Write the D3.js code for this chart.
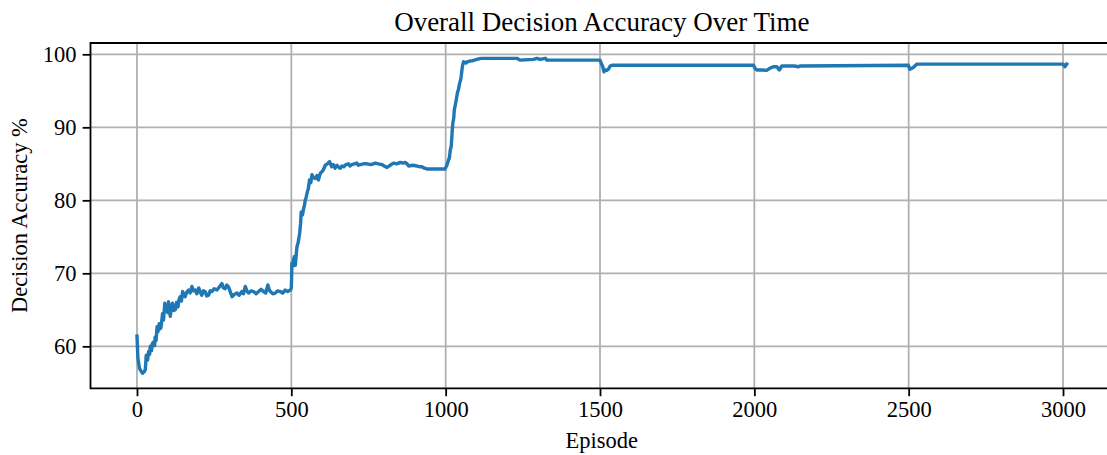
<!DOCTYPE html>
<html>
<head>
<meta charset="utf-8">
<script src="https://cdn.jsdelivr.net/npm/d3@7"></script>
<style>
  html, body { margin: 0; padding: 0; background: #fff; }
  svg { display: block; font-family: "Liberation Serif", "DejaVu Serif", serif; }
</style>
</head>
<body>
<svg id="chart" width="1107" height="455"></svg>
<script>
// Episode numbers and the accuracy (%) recorded at each of them
const episodes = [
  0,3,8,13,18,23,27,30,34,38,41,43,47,50,54,57,59,62,65,68,72,75,78,81,83,86,90,93,97,100,102,105,108,111,115,119,124,128,133,136,140,144,148,152,156,161,167,172,178,183,189,194,200,205,210,215,221,226,232,237,243,250,259,266,275,280,286,291,297,302,308,315,324,331,340,345,351,356,362,370,378,386,394,402,410,417,424,428,432,440,448,456,464,472,480,488,497,
  500,502,505,507,510,513,516,518,522,527,530,532,536,540,543,545,548,551,555,559,563,567,572,578,583,588,591,594,599,604,607,610,617,624,628,631,636,642,645,648,654,659,664,670,677,685,690,696,704,712,717,723,734,745,758,772,782,793,801,810,820,831,842,853,861,869,875,880,893,907,915,923,931,939,955,971,985,998,
  1004,1009,1012,1015,1018,1020,1023,1026,1028,1031,1034,1038,1042,1045,1048,1050,1054,1058,1062,1066,1070,1074,1080,1085,1093,1101,1110,1117,1231,1241,1285,1296,1306,1323,1328,
  1500,1504,1509,1513,1517,1522,1528,1533,1539,1554,1997,2002,2008,2025,2040,2051,2062,2073,2081,2089,2102,2116,2130,2143,2148,2499,2504,2510,2515,2526,3001,3006,3012
];
const accuracy = [
  61.4,58.4,57.0,56.6,56.3,56.5,56.8,58.8,58.1,59.3,58.9,60.0,59.4,60.4,60.6,60.1,61.3,60.8,62.7,62.0,63.1,62.4,62.6,63.8,64.5,63.6,65.9,64.8,65.4,64.6,66.1,65.0,64.1,65.3,65.9,64.9,65.0,66.0,65.4,66.4,66.8,66.2,67.5,67.1,66.8,67.4,67.7,67.3,68.2,67.6,67.7,67.2,68.0,67.4,67.0,67.6,67.5,66.9,67.0,67.6,67.5,67.9,67.7,68.1,68.6,68.0,67.9,68.4,68.1,67.5,66.8,67.1,67.3,67.0,67.5,67.2,68.2,67.6,67.3,67.6,67.5,67.2,67.5,67.8,67.5,67.3,68.4,67.8,67.5,67.2,67.3,67.6,67.5,67.3,67.7,67.5,67.7,
  68.0,71.4,71.0,71.8,72.3,71.1,72.6,73.6,74.2,75.5,76.8,78.4,78.0,78.9,79.4,80.0,80.4,81.0,81.6,82.8,82.4,83.5,83.1,83.0,83.4,82.8,83.3,83.7,83.9,84.2,84.5,84.8,85.0,85.3,84.9,84.6,84.9,84.4,84.7,84.8,84.5,84.4,84.7,84.6,84.9,85.0,84.7,84.9,85.0,85.1,84.8,84.9,85.0,85.0,84.9,85.1,85.0,84.9,84.7,84.5,84.8,85.1,85.0,85.2,85.1,85.2,85.0,84.7,84.8,84.7,84.6,84.6,84.4,84.3,84.3,84.3,84.3,84.3,
  84.8,85.5,85.8,86.9,87.4,88.7,90.5,91.2,92.4,93.0,93.7,94.7,95.3,96.0,96.4,96.9,98.3,99.0,98.9,98.8,99.0,99.0,99.1,99.1,99.2,99.3,99.4,99.45,99.45,99.2,99.3,99.45,99.3,99.45,99.2,
  99.2,98.8,98.3,97.6,97.85,97.8,98.0,98.4,98.5,98.5,98.5,98.1,97.85,97.85,97.8,98.1,98.3,98.3,97.85,98.4,98.4,98.4,98.4,98.3,98.4,98.5,97.95,98.1,98.2,98.65,98.65,98.3,98.65
];

const xTicks = [0,500,1000,1500,2000,2500,3000];
const yTicks = [60,70,80,90,100];

const titleText = "Overall Decision Accuracy Over Time";
const xLabelText = "Episode";
const yLabelText = "Decision Accuracy %";

const data = episodes.map((e, i) => ({ e, v: accuracy[i] }));

const svg = d3.select("#chart");
const plot = { left: 90.5, right: 1113.2, top: 43, bottom: 388.3 };

const x = d3.scaleLinear().domain([-150.6, 3162.6]).range([plot.left, plot.right]);
const y = d3.scaleLinear().domain([54.25, 101.55]).range([plot.bottom, plot.top]);

const gridColor = "#b0b0b0";
const tickLen = 7.9;

// Grid lines
const grid = svg.append("g");
grid.selectAll("line.gx").data(xTicks).join("line")
  .attr("x1", d => x(d)).attr("x2", d => x(d))
  .attr("y1", plot.top).attr("y2", plot.bottom)
  .attr("stroke", gridColor).attr("stroke-width", 1.8);
grid.selectAll("line.gy").data(yTicks).join("line")
  .attr("y1", d => y(d)).attr("y2", d => y(d))
  .attr("x1", plot.left).attr("x2", plot.right)
  .attr("stroke", gridColor).attr("stroke-width", 1.8);

// Accuracy curve
svg.append("clipPath").attr("id", "plotClip").append("rect")
  .attr("x", plot.left).attr("y", plot.top)
  .attr("width", plot.right - plot.left).attr("height", plot.bottom - plot.top);

const line = d3.line().x(d => x(d.e)).y(d => y(d.v));
svg.append("path")
  .datum(data)
  .attr("clip-path", "url(#plotClip)")
  .attr("fill", "none")
  .attr("stroke", "#1f77b4")
  .attr("stroke-width", 3.4)
  .attr("stroke-linejoin", "round")
  .attr("stroke-linecap", "square")
  .attr("d", line);

// Axes
const xAxis = d3.axisBottom(x).tickValues(xTicks).tickSize(tickLen).tickPadding(5).tickFormat(d3.format("d"));
const yAxis = d3.axisLeft(y).tickValues(yTicks).tickSize(tickLen).tickPadding(6).tickFormat(d3.format("d"));

const gx = svg.append("g").attr("transform", `translate(0,${plot.bottom})`).call(xAxis);
const gy = svg.append("g").attr("transform", `translate(${plot.left},0)`).call(yAxis);
[gx, gy].forEach(g => {
  g.select(".domain").remove();
  g.selectAll(".tick line").attr("stroke", "#000").attr("stroke-width", 1.8);
  g.selectAll(".tick text")
    .attr("fill", "#000")
    .style("font-family", "'Liberation Serif', serif")
    .style("font-size", "22.5px");
});

// Spines
const spines = svg.append("g").attr("stroke", "#000").attr("stroke-width", 1.8).attr("fill", "none");
spines.append("path")
  .attr("d", `M${plot.left},${plot.top}H${plot.right}V${plot.bottom}H${plot.left}Z`);

// Title and axis labels
svg.append("text")
  .attr("x", (plot.left + plot.right) / 2).attr("y", 31)
  .attr("text-anchor", "middle")
  .style("font-size", "27px")
  .text(titleText);

svg.append("text")
  .attr("x", (plot.left + plot.right) / 2).attr("y", 448)
  .attr("text-anchor", "middle")
  .style("font-size", "22.5px")
  .text(xLabelText);

svg.append("text")
  .attr("transform", `translate(27,${(plot.top + plot.bottom) / 2}) rotate(-90)`)
  .attr("text-anchor", "middle")
  .style("font-size", "22.5px")
  .text(yLabelText);
</script>
</body>
</html>
